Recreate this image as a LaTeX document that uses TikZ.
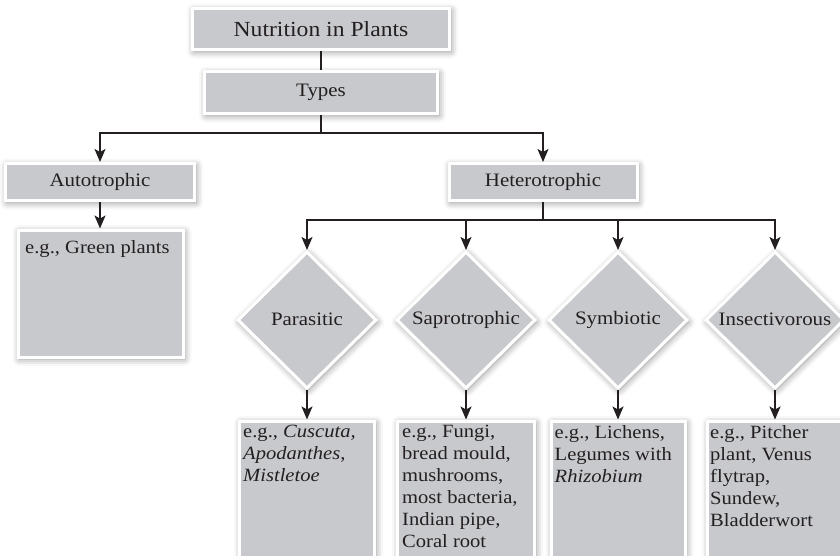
\documentclass[tikz,border=0pt]{standalone}
\usepackage{fontspec}
\setmainfont{Liberation Serif}[FakeStretch=1.1]
\usetikzlibrary{shapes.geometric,arrows.meta,shadows.blur}

\definecolor{boxgrey}{RGB}{200,201,204}
\definecolor{ink}{RGB}{35,31,32}

\tikzset{
  softshadow/.style={blur shadow={shadow xshift=1.5pt, shadow yshift=-2pt,
      shadow blur radius=7pt, shadow opacity=45}},
  boxbase/.style={fill=boxgrey, draw=white, line width=3pt, inner sep=0pt,
      text=ink, softshadow},
  headbox/.style={boxbase, rectangle, font=\fontsize{19}{21}\selectfont},
  kindbox/.style={boxbase, diamond, aspect=1, minimum width=139pt,
      minimum height=137pt, font=\fontsize{19}{21}\selectfont},
  exbox/.style={boxbase, rectangle, anchor=north},
  extext/.style={anchor=north west, inner sep=0pt, align=left, text=ink,
      font=\fontsize{18.7}{22}\selectfont},
  link/.style={draw=ink, line width=1.6pt},
  arr/.style={link, -{Stealth[length=13pt, width=11pt, inset=3pt]}},
}

\begin{document}
\begin{tikzpicture}[x=1pt, y=-1pt]
\useasboundingbox (0,0) rectangle (840,555);
\clip (0,0) rectangle (840,555);

% top of the tree
\node[headbox, minimum width=257pt, minimum height=41pt,
      font=\fontsize{21.5}{24}\selectfont] (nut) at (321,29) {Nutrition in Plants};
\node[headbox, minimum width=233pt, minimum height=42pt] (types) at (321,92.5) {Types};

% the two main kinds
\node[headbox, minimum width=189pt, minimum height=37pt] (auto) at (100,182) {Autotrophic};
\node[headbox, minimum width=188pt, minimum height=37pt] (het) at (543,182) {Heterotrophic};

% autotrophic example
\node[exbox, minimum width=165pt, minimum height=127pt] (gbox) at (100.5,228.5) {};
\node[extext] (gtext) at ([shift={(8.5pt,-12pt)}]gbox.north west) {e.g., Green plants};

% heterotrophic modes
\node[kindbox] (para) at (307,320) {\raisebox{2pt}{Parasitic}};
\node[kindbox] (sapro) at (466,320) {\raisebox{2pt}{Saprotrophic}};
\node[kindbox] (symb) at (618,320) {\raisebox{2pt}{Symbiotic}};
\node[kindbox] (insect) at (775,320) {\raisebox{2pt}{Insectivorous}};

% example boxes under each mode
\node[exbox, minimum width=135pt, minimum height=160pt] (pbox) at (307,419.5) {};
\node[exbox, minimum width=137pt, minimum height=160pt] (sbox) at (466,419.5) {};
\node[exbox, minimum width=134pt, minimum height=160pt] (ybox) at (618,419.5) {};
\node[exbox, minimum width=135pt, minimum height=160pt] (ibox) at (775,419.5) {};

\node[extext] (ptext) at ([shift={(5pt,-5.5pt)}]pbox.north west)
  {e.g., \textit{Cuscuta,}\\ \textit{Apodanthes},\\ \textit{Mistletoe}};
\node[extext] (stext) at ([shift={(6pt,-5.5pt)}]sbox.north west)
  {e.g., Fungi,\\ bread mould,\\ mushrooms,\\ most bacteria,\\ Indian pipe,\\ Coral root};
\node[extext] (ytext) at ([shift={(5pt,-5.5pt)}]ybox.north west)
  {e.g., Lichens,\\ Legumes with\\ \textit{Rhizobium}};
\node[extext] (itext) at ([shift={(4pt,-5.5pt)}]ibox.north west)
  {e.g., Pitcher\\ plant, Venus\\ flytrap,\\ Sundew,\\ Bladderwort};

% connectors
\coordinate (split1) at (321,133);
\coordinate (split2) at (543,220);

\draw[link] (nut.south) -- (types.north);
\draw[link] (types.south) -- (split1);
\draw[arr] (split1) -| (auto.north);
\draw[arr] (split1) -| (het.north);
\draw[arr] (auto.south) -- (auto.south |- gbox.north);

\draw[link] (het.south) -- (split2);
\draw[arr] (split2) -| (para.north);
\draw[arr] (split2) -| (sapro.north);
\draw[arr] (split2) -| (symb.north);
\draw[arr] (split2) -| (insect.north);

\draw[arr] (para.south) -- (pbox.north);
\draw[arr] (sapro.south) -- (sbox.north);
\draw[arr] (symb.south) -- (ybox.north);
\draw[arr] (insect.south) -- (ibox.north);
\end{tikzpicture}
\end{document}
